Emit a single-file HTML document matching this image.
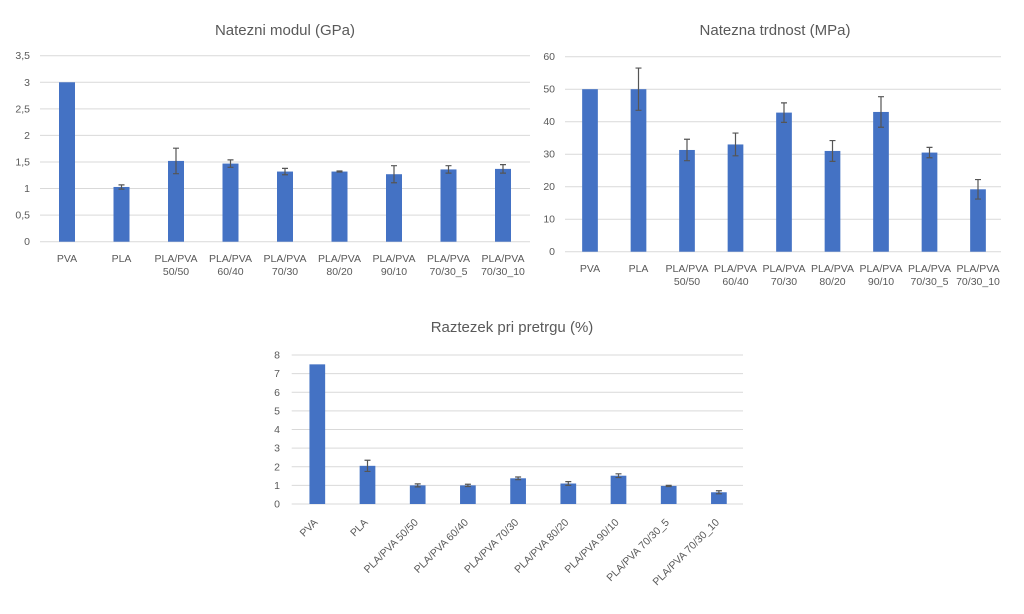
<!DOCTYPE html>
<html><head><meta charset="utf-8"><style>
body{margin:0;background:#fff}
svg{display:block;font-family:"Liberation Sans",sans-serif}
.t{font-size:10.5px;fill:#595959}
.ti{font-size:15px;fill:#595959}
.g{stroke:#d9d9d9;stroke-width:1}
.b{fill:#4472c4}
.e{stroke:#555;stroke-width:1.2;fill:none}
</style></head><body>
<svg width="1024" height="614" viewBox="0 0 1024 614" id="s"></svg>
<script>
const s=document.getElementById('s');let h='';
const cats=["PVA","PLA","PLA/PVA 50/50","PLA/PVA 60/40","PLA/PVA 70/30","PLA/PVA 80/20","PLA/PVA 90/10","PLA/PVA 70/30_5","PLA/PVA 70/30_10"];
function chart(o){
 const {x0,x1,y0,ppu,ticks,lblx,c0,dx,bw,vals,errs,rot,ly1,ly2,title,tx,ty}=o;
 h+=`<text class="ti" x="${tx}" y="${ty}" text-anchor="middle">${title}</text>`;
 ticks.forEach(([v,l])=>{const y=y0-v*ppu;h+=`<line class="g" x1="${x0}" x2="${x1}" y1="${y}" y2="${y}"/><text class="t" x="${lblx}" y="${y+3.5}" text-anchor="end">${l}</text>`;});
 vals.forEach((v,i)=>{const cx=c0+i*dx,y=y0-v*ppu;h+=`<rect class="b" x="${cx-bw/2}" y="${y}" width="${bw}" height="${v*ppu}"/>`;
  const e=errs[i];if(e){const a=y0-(v+e)*ppu,b=y0-(v-e)*ppu;h+=`<path class="e" d="M${cx} ${a}V${b}M${cx-3} ${a}H${cx+3}M${cx-3} ${b}H${cx+3}"/>`;}
  const c=cats[i];
  if(rot){h+=`<text class="t" text-anchor="end" transform="translate(${cx+1},${y0+19}) rotate(-45)">${c}</text>`;}
  else{const p=c.split(' ');h+=`<text class="t" x="${cx}" y="${ly1}" text-anchor="middle">${p[0]}</text>`;if(p[1])h+=`<text class="t" x="${cx}" y="${ly2}" text-anchor="middle">${p[1]}</text>`;}
 });
}
chart({x0:40,x1:530,y0:241.7,ppu:53.14,ticks:[[0,"0"],[0.5,"0,5"],[1,"1"],[1.5,"1,5"],[2,"2"],[2.5,"2,5"],[3,"3"],[3.5,"3,5"]],lblx:30,c0:67,dx:54.5,bw:16,
 vals:[3,1.03,1.52,1.47,1.32,1.32,1.27,1.36,1.37],errs:[0,0.04,0.24,0.07,0.06,0.01,0.16,0.07,0.08],ly1:262,ly2:275,title:"Natezni modul (GPa)",tx:285,ty:35});
chart({x0:565,x1:1001,y0:251.7,ppu:3.25,ticks:[[0,"0"],[10,"10"],[20,"20"],[30,"30"],[40,"40"],[50,"50"],[60,"60"]],lblx:555,c0:590,dx:48.5,bw:15.7,
 vals:[50,50,31.3,33,42.8,31,43,30.5,19.2],errs:[0,6.5,3.3,3.5,3,3.2,4.7,1.6,3],ly1:272,ly2:285,title:"Natezna trdnost (MPa)",tx:775,ty:35});
chart({x0:291.7,x1:743,y0:504,ppu:18.62,ticks:[[0,"0"],[1,"1"],[2,"2"],[3,"3"],[4,"4"],[5,"5"],[6,"6"],[7,"7"],[8,"8"]],lblx:280,c0:317.3,dx:50.2,bw:15.7,
 vals:[7.5,2.05,1.0,1.0,1.38,1.1,1.52,0.97,0.63],errs:[0,0.3,0.08,0.06,0.07,0.1,0.1,0.03,0.08],rot:true,title:"Raztezek pri pretrgu (%)",tx:512,ty:332});
s.innerHTML=h;
</script>
</body></html>
